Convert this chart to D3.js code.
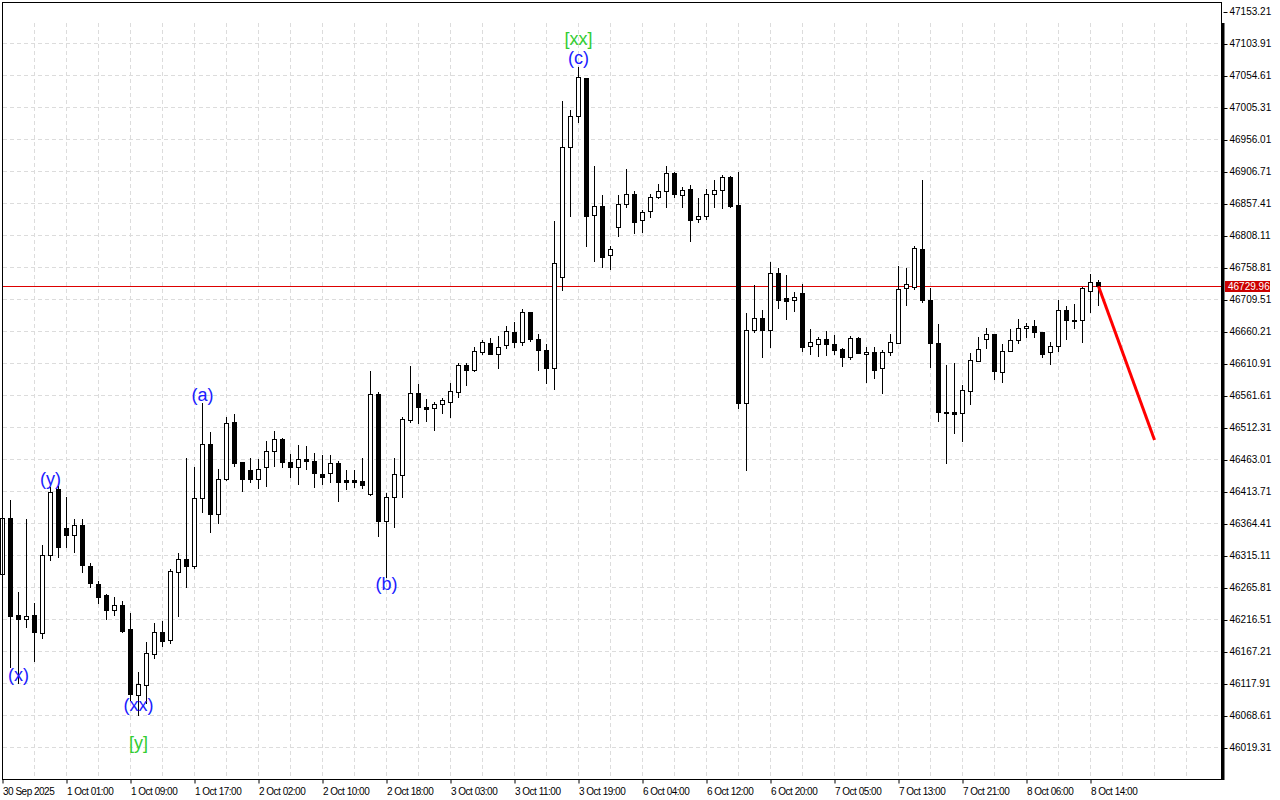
<!DOCTYPE html>
<html><head><meta charset="utf-8">
<script src="https://cdn.jsdelivr.net/npm/d3@7"></script>
<style>
html,body{margin:0;padding:0;background:#fff;}
svg{display:block;}
text{font-family:"Liberation Sans",Arial,sans-serif;}
</style></head><body>
<svg id="chart" width="1280" height="800"></svg>
<script>
// ---- DATA (hourly bars, index 0 = 30 Sep 2025 17:00) ----
const opens=[46286.6,46372.4,46223.0,46217.3,46223.0,46196.2,46315.4,46417.6,46357.0,46346.2,
46361.7,46298.5,46270.8,46253.8,46230.7,46239.3,46201.4,46099.8,46115.2,46163.4,
46196.8,46185.0,46289.3,46309.3,46299.4,46403.3,46486.9,46379.5,46432.5,46520.3,
46458.7,46446.4,46432.5,46451.0,46475.7,46494.1,46459.2,46451.0,46463.8,46460.7,
46440.7,46441.8,46457.2,46431.4,46431.4,46429.9,46409.4,46563.5,46368.7,46404.8,
46438.7,46523.4,46565.0,46543.4,46541.9,46548.1,46551.2,46567.5,46608.6,46600.5,
46628.2,46642.0,46625.1,46639.4,46659.0,46643.6,46689.8,46648.2,46631.3,46603.5,
46744.6,46944.9,46992.2,47050.3,46839.2,46853.6,46777.6,46820.8,46856.2,46871.6,
46831.5,46845.4,46867.0,46876.2,46904.9,46870.1,46879.3,46833.1,46837.7,46871.6,
46877.8,46898.2,46855.1,46549.6,46662.1,46680.6,46662.1,46749.9,46711.4,46708.3,
46719.1,46637.4,46640.5,46648.2,46640.5,46633.3,46620.5,46649.7,46625.1,46628.2,
46603.5,46628.2,46643.0,46726.8,46729.2,46786.9,46708.8,46642.0,46536.2,46536.2,
46535.1,46569.0,46615.2,46648.2,46656.4,46598.3,46629.7,46646.7,46665.1,46668.2,
46659.5,46628.2,46637.4,46692.9,46677.9,46677.5,46722.2,46736.0];
const highs=[46392.9,46400.6,46259.4,46370.9,46241.5,46330.8,46420.7,46422.2,46404.8,46370.9,
46370.9,46303.1,46275.8,46255.8,46251.7,46244.6,46227.0,46136.1,46181.1,46210.7,
46214.2,46294.3,46318.5,46465.3,46451.0,46549.6,46504.9,46447.9,46528.0,46532.7,
46458.7,46464.9,46463.3,46491.5,46506.9,46495.7,46471.5,46485.4,46483.8,46472.6,
46470.0,46470.0,46460.3,46446.9,46446.9,46464.9,46599.4,46566.6,46411.9,46465.8,
46529.0,46607.1,46579.3,46556.2,46551.2,46557.3,46581.3,46611.2,46611.2,46636.8,
46647.1,46650.2,46653.3,46668.7,46674.9,46694.9,46691.0,46656.4,46641.0,46830.5,
47015.8,47001.5,47067.3,47051.5,46915.2,46870.5,46791.9,46870.5,46910.6,46876.2,
46847.4,46872.1,46887.5,46915.2,46906.7,46883.3,46885.5,46865.4,46879.3,46893.2,
46900.9,46899.8,46906.0,46688.3,46731.9,46693.3,46767.3,46758.1,46747.3,46721.1,
46733.4,46663.6,46652.2,46661.0,46654.4,46635.3,46653.3,46651.3,46635.9,46635.9,
46631.7,46656.4,46761.1,46757.6,46791.9,46893.6,46727.2,46671.8,46608.6,46612.2,
46577.8,46627.6,46652.2,46665.6,46657.1,46641.0,46663.6,46679.5,46672.9,46677.9,
46660.2,46644.0,46708.8,46699.5,46702.6,46729.2,46748.8,46739.6];
const lows=[46277.4,46143.4,46118.2,46204.5,46153.1,46187.6,46308.2,46313.3,46327.8,46321.0,
46290.2,46266.1,46241.5,46217.8,46223.0,46197.7,46092.5,46069.4,46087.9,46156.8,
46176.2,46179.9,46222.4,46267.1,46295.4,46382.6,46351.8,46365.7,46431.4,46453.5,
46415.0,46428.8,46419.6,46422.7,46453.5,46451.0,46436.5,46425.3,46448.9,46421.1,
46425.3,46428.8,46399.6,46417.6,46421.1,46419.6,46408.3,46345.2,46282.5,46359.5,
46404.8,46521.3,46519.7,46522.8,46508.5,46534.2,46529.0,46559.8,46577.3,46599.4,
46625.1,46625.1,46604.5,46635.3,46635.9,46639.9,46646.1,46600.9,46580.4,46572.1,
46724.2,46838.6,46982.5,46792.4,46769.3,46759.6,46756.1,46807.8,46852.5,46811.5,
46813.1,46837.1,46865.4,46852.5,46867.0,46852.5,46800.1,46829.4,46833.1,46851.6,
46850.0,46852.5,46541.9,46446.9,46659.9,46620.5,46636.8,46696.9,46679.9,46691.8,
46630.6,46626.0,46622.9,46624.0,46626.0,46607.5,46618.3,46626.6,46582.9,46589.0,
46565.9,46624.5,46642.0,46701.5,46725.2,46705.2,46606.0,46522.8,46458.1,46503.4,
46492.0,46548.1,46614.8,46634.3,46587.0,46582.9,46629.4,46642.0,46652.2,46651.3,
46621.4,46610.6,46630.6,46649.1,46666.1,46644.5,46690.7,46701.1];
const closes=[46372.4,46222.4,46217.8,46221.9,46197.7,46315.4,46412.5,46327.8,46347.2,46361.7,
46300.0,46272.3,46251.7,46230.7,46239.3,46198.8,46101.3,46116.7,46164.5,46196.8,
46183.9,46290.8,46309.3,46299.4,46403.3,46486.9,46379.5,46432.5,46518.8,46458.1,
46432.5,46432.5,46447.9,46475.7,46494.1,46458.7,46451.9,46463.3,46460.7,46441.8,
46436.5,46457.2,46428.8,46428.8,46428.8,46424.2,46563.5,46368.7,46404.8,46440.7,
46525.4,46565.0,46543.4,46541.3,46548.1,46554.7,46568.6,46608.6,46600.5,46629.7,
46643.6,46625.1,46635.9,46660.5,46643.6,46689.8,46648.2,46631.3,46603.5,46765.3,
46944.0,46992.2,47051.8,46838.6,46853.6,46775.5,46786.9,46856.2,46871.6,46829.4,
46843.9,46867.0,46876.2,46903.9,46871.6,46877.8,46832.5,46837.7,46871.6,46877.8,
46898.2,46854.0,46549.6,46662.5,46680.6,46662.1,46749.9,46709.2,46707.7,46712.9,
46636.8,46643.6,46648.2,46640.5,46632.2,46620.5,46649.7,46627.6,46628.2,46600.5,
46628.2,46643.6,46725.4,46732.9,46788.4,46709.2,46643.0,46535.7,46535.4,46533.6,
46570.1,46615.9,46632.8,46656.4,46598.6,46630.2,46646.7,46665.1,46668.2,46659.0,
46626.0,46637.4,46692.9,46677.5,46676.8,46726.8,46736.0,46729.96];

const priceTicks=[46019.31,46068.61,46117.91,46167.21,46216.51,46265.81,46315.11,46364.41,
46413.71,46463.01,46512.31,46561.61,46610.91,46660.21,46709.51,46758.81,46808.11,46857.41,
46906.71,46956.01,47005.31,47054.61,47103.91,47153.21];
const timeTickBars=[0,8,16,24,32,40,48,56,64,72,80,88,96,104,112,120,128,136];
const timeTickLabels=["30 Sep 2025","1 Oct 01:00","1 Oct 09:00","1 Oct 17:00","2 Oct 02:00",
"2 Oct 10:00","2 Oct 18:00","3 Oct 03:00","3 Oct 11:00","3 Oct 19:00","6 Oct 04:00",
"6 Oct 12:00","6 Oct 20:00","7 Oct 05:00","7 Oct 13:00","7 Oct 21:00","8 Oct 06:00","8 Oct 14:00"];
const currentPrice=46729.96;

const waveTexts=["(x)","(y)","(xx)","[y]","(a)","(b)","(c)","[xx]"];
const waveBars=[2,6,17,17,25,48,72,72];
const wavePrices=[46131.0,46433.0,46084.8,46026.2,46562.4,46271.2,47081.6,47110.8];
const waveDegree=["minor","minor","minor","major","minor","minor","minor","major"];

const forecastBars=[137,144];
const forecastPrices=[46729.96,46493.0];

// ---- CHART ----
const svg=d3.select("#chart");
const x=d3.scaleLinear().domain([0,152]).range([2.5,1218.5]);
const y=d3.scaleLinear().domain([46019.31,47153.21]).range([747.5,11.5]);
const snap=v=>Math.round(v-0.5)+0.5;

const bars=d3.range(opens.length).map(i=>({i,o:opens[i],h:highs[i],l:lows[i],c:closes[i]}));

// grid
const grid=svg.append("g").attr("stroke","#dcdcdc").attr("stroke-dasharray","4,3").attr("stroke-width",1);
grid.selectAll("line.h").data(priceTicks.slice(0,-1)).join("line")
  .attr("x1",3).attr("x2",1221).attr("y1",d=>snap(y(d))).attr("y2",d=>snap(y(d)));
grid.selectAll("line.v").data(d3.range(4,152,4).filter(k=>x(k)<1220)).join("line")
  .attr("y1",23).attr("y2",779).attr("x1",d=>x(d)).attr("x2",d=>x(d));

// current price line
svg.append("line").attr("x1",3).attr("x2",1221)
  .attr("y1",snap(y(currentPrice))).attr("y2",snap(y(currentPrice)))
  .attr("stroke","#dd0000").attr("stroke-width",1);

// candles
const cg=svg.append("g");
cg.selectAll("line.w").data(bars).join("line")
  .attr("x1",d=>x(d.i)).attr("x2",d=>x(d.i))
  .attr("y1",d=>Math.round(y(d.h))).attr("y2",d=>Math.round(y(d.l))+1)
  .attr("stroke","#000").attr("stroke-width",1);
cg.selectAll("rect").data(bars).join("rect")
  .attr("x",d=>x(d.i)-2).attr("width",4)
  .attr("y",d=>Math.round(y(Math.max(d.o,d.c)))+0.5)
  .attr("height",d=>Math.max(0,Math.round(y(Math.min(d.o,d.c)))-Math.round(y(Math.max(d.o,d.c)))))
  .attr("fill",d=>d.c>=d.o?"#fff":"#000")
  .attr("stroke","#000").attr("stroke-width",1);

// forecast arrow line
svg.append("line")
  .attr("x1",x(forecastBars[0])).attr("y1",y(forecastPrices[0]))
  .attr("x2",x(forecastBars[1])).attr("y2",y(forecastPrices[1]))
  .attr("stroke","#ff0000").attr("stroke-width",3);

// wave labels
svg.append("g").selectAll("text").data(waveTexts).join("text")
  .attr("x",(d,i)=>x(waveBars[i])).attr("y",(d,i)=>y(wavePrices[i]))
  .attr("dy","0.35em").attr("text-anchor","middle")
  .attr("font-size","18px")
  .attr("fill",(d,i)=>waveDegree[i]==="major"?"#32cd32":"#2020ff")
  .text(d=>d);

// frame
svg.append("rect").attr("x",2.5).attr("y",2.5).attr("width",1219).attr("height",777)
  .attr("fill","none").attr("stroke","#000").attr("stroke-width",1);
svg.append("line").attr("x1",1223).attr("x2",1223).attr("y1",23).attr("y2",780)
  .attr("stroke","#000").attr("stroke-width",3);

// price axis
const yAxis=d3.axisRight(y).tickValues(priceTicks).tickSize(4).tickPadding(2).tickFormat(d3.format(".2f"));
const ya=svg.append("g").attr("transform","translate(1223.5,0)").call(yAxis);
ya.select(".domain").remove();
ya.selectAll(".tick line").attr("stroke","#000").attr("transform","translate(0,0.5)");
ya.selectAll(".tick text").attr("font-size","10px").attr("fill","#000")
  .attr("font-family","'Liberation Sans',Arial,sans-serif");

// current price tag
const cy=y(currentPrice);
svg.append("rect").attr("x",1225).attr("y",Math.round(cy)-5).attr("width",45).attr("height",11).attr("fill","#cc0000");
svg.append("text").attr("x",1228).attr("y",cy).attr("dy","0.35em")
  .attr("font-size","10px").attr("fill","#fff").text(d3.format(".2f")(currentPrice));

// time axis
const xAxis=d3.axisBottom(x).tickValues(timeTickBars).tickSize(4).tickPadding(2)
  .tickFormat((d,i)=>timeTickLabels[i]);
const xa=svg.append("g").attr("transform","translate(0,779.5)").call(xAxis);
xa.select(".domain").remove();
xa.selectAll(".tick line").attr("stroke","#000");
xa.selectAll(".tick text").attr("text-anchor","start").attr("font-size","10px")
  .attr("letter-spacing","-0.5px").attr("fill","#000").attr("dy","0.9em")
  .attr("font-family","'Liberation Sans',Arial,sans-serif");
</script>
</body></html>
